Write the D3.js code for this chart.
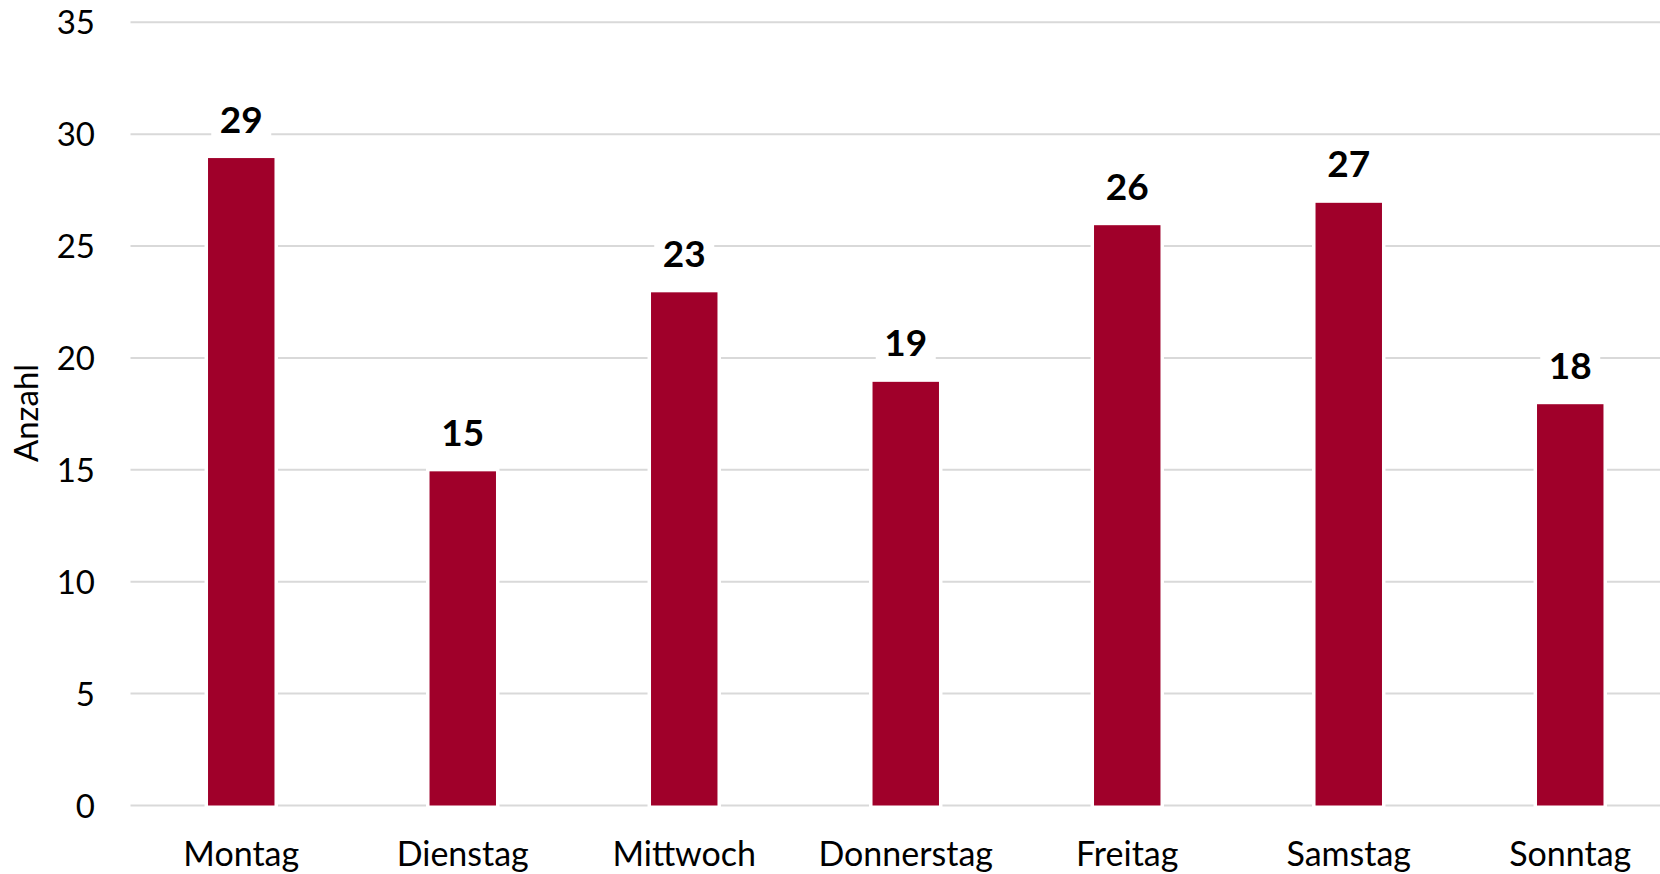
<!DOCTYPE html>
<html>
<head>
<meta charset="utf-8">
<script src="https://cdn.jsdelivr.net/npm/d3@7"></script>
<style>
  html, body { margin: 0; padding: 0; background: #fff; }
  svg { display: block; }
  text { font-family: Lato, "Open Sans", sans-serif; fill: #000; }
</style>
</head>
<body>
<svg id="chart" width="1660" height="874"></svg>
<script>
const categories = ["Montag", "Dienstag", "Mittwoch", "Donnerstag", "Freitag", "Samstag", "Sonntag"];
const values = [29, 15, 23, 19, 26, 27, 18];
const yTicks = [0, 5, 10, 15, 20, 25, 30, 35];
const yTitle = "Anzahl";

const W = 1660, H = 874;
const svg = d3.select("#chart");

const x = d3.scaleBand()
  .domain(categories)
  .range([130.5, 1681])
  .paddingInner(0.7)
  .paddingOuter(0.35);

const y = d3.scaleLinear()
  .domain([0, 35])
  .range([805.5, 22.3]);

// gridlines
svg.append("g")
  .selectAll("line")
  .data(yTicks)
  .join("line")
  .attr("x1", 130.5)
  .attr("x2", W)
  .attr("y1", d => y(d))
  .attr("y2", d => y(d))
  .attr("stroke", "#d9d9d9")
  .attr("stroke-width", 2);

// y axis labels
const yAxis = d3.axisLeft(y).tickValues(yTicks).tickSize(0).tickPadding(0);
const gy = svg.append("g").attr("transform", "translate(95,0)").call(yAxis);
gy.select(".domain").remove();
gy.selectAll("text")
  .attr("font-size", 33)
  .attr("font-family", "Lato, 'Open Sans', sans-serif")
  .attr("fill", "#000")
  .attr("dy", "0.35em");

// bars
svg.append("g")
  .selectAll("rect")
  .data(values)
  .join("rect")
  .attr("x", (d, i) => x(categories[i]))
  .attr("y", d => y(d) + 1.5)
  .attr("width", x.bandwidth())
  .attr("height", d => y(0) - y(d) - 1.5)
  .attr("fill", "#a0002a")
  .attr("stroke", "#fff")
  .attr("stroke-width", 7)
  .style("paint-order", "stroke");

// data labels with white background
const lbl = svg.append("g")
  .selectAll("g")
  .data(values)
  .join("g")
  .attr("transform", (d, i) => `translate(${x(categories[i]) + x.bandwidth() / 2},${y(d) - 24})`);
lbl.append("rect")
  .attr("x", -30)
  .attr("y", -34)
  .attr("width", 60)
  .attr("height", 40)
  .attr("fill", "#fff");
lbl.append("text")
  .attr("text-anchor", "middle")
  .attr("font-size", 37)
  .attr("font-weight", "bold")
  .attr("fill", "#111")
  .text(d => d);

// x axis labels
const xAxis = d3.axisBottom(x).tickSize(0).tickPadding(0);
const gx = svg.append("g").attr("transform", "translate(0,866)").call(xAxis);
gx.select(".domain").remove();
gx.selectAll("text")
  .attr("font-size", 34)
  .attr("font-family", "Lato, 'Open Sans', sans-serif")
  .attr("fill", "#000")
  .attr("dy", "0");

// y title
svg.append("text")
  .attr("transform", "translate(37.5,413) rotate(-90)")
  .attr("text-anchor", "middle")
  .attr("font-size", 33)
  .text(yTitle);
</script>
</body>
</html>
